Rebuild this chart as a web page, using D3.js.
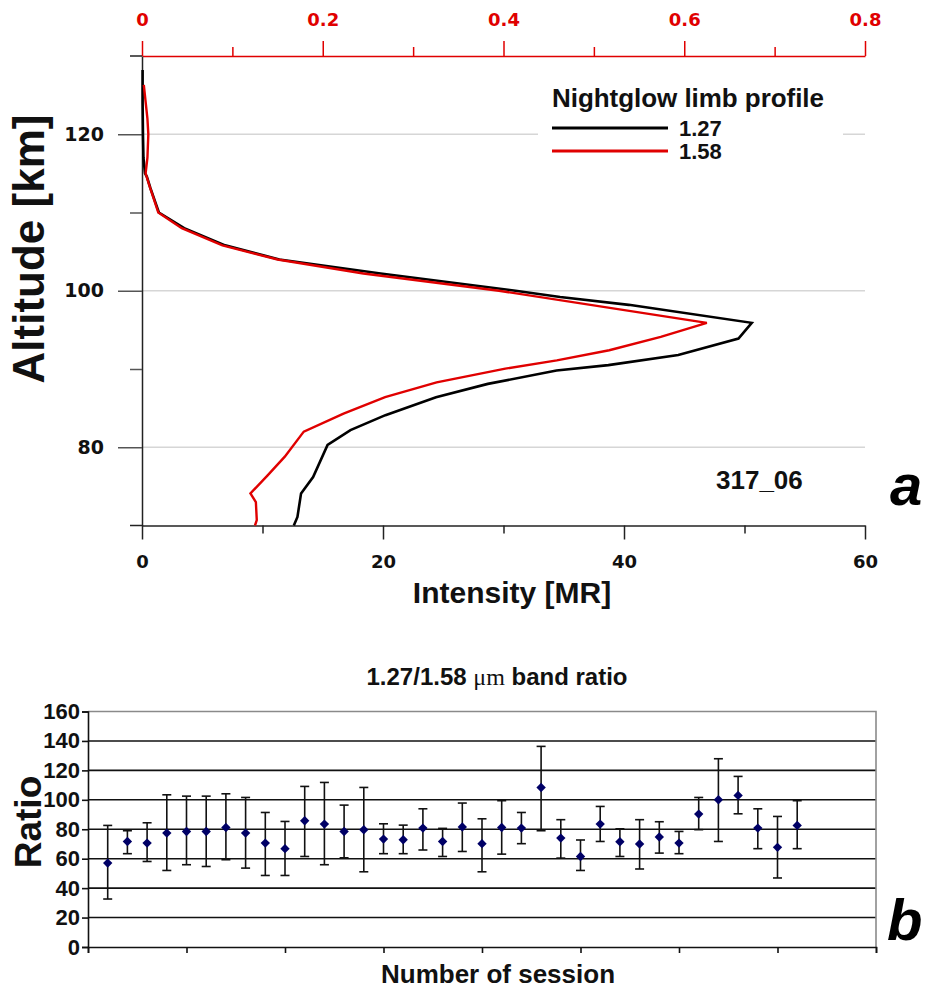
<!DOCTYPE html>
<html>
<head>
<meta charset="utf-8">
<script src="https://cdn.jsdelivr.net/npm/d3@7"></script>
<style>
body { margin: 0; background: #fff; }
text { font-family: "Liberation Sans", Arial, sans-serif; font-weight: bold; }
.tk text { font-family: "DejaVu Sans", Verdana, sans-serif; }
</style>
</head>
<body>
<div id="chart"></div>
<script>
// ---- panel a : nightglow limb profile ----
const alt127 = [128.2, 124, 120, 117, 115, 114.6, 113.1, 110, 108, 105.8, 104, 102.2, 100, 99.2, 98.2, 95.9, 93.9, 91.8, 90.5, 89.8, 88.1, 86.4, 84.1, 82.2, 80.3, 76.2, 74.1, 71.1, 70];
const int127 = [0.05, 0.05, 0.08, 0.12, 0.25, 0.4, 0.7, 1.4, 3.5, 6.9, 11.4, 19.8, 31.0, 34.7, 40.4, 50.6, 49.5, 44.5, 38.7, 34.4, 28.7, 24.4, 20.2, 17.3, 15.4, 14.2, 13.2, 12.9, 12.6];
// 1.58 profile is read against the red top axis
const alt158 = [126.3, 122, 120, 117, 115, 113.5, 110, 108, 105.8, 104, 102.2, 100, 95.9, 94.1, 92.4, 91.1, 90.05, 88.3, 86.4, 84.3, 82, 78.8, 76.4, 74.1, 73, 70.7, 70];
const int158 = [0.002, 0.006, 0.007, 0.006, 0.004, 0.008, 0.018, 0.044, 0.089, 0.150, 0.245, 0.395, 0.625, 0.574, 0.517, 0.459, 0.402, 0.326, 0.269, 0.223, 0.179, 0.158, 0.139, 0.120, 0.126, 0.127, 0.125];
const topTicks = [0, 0.1, 0.2, 0.3, 0.4, 0.5, 0.6, 0.7, 0.8];
const intTicks = [0, 10, 20, 30, 40, 50, 60];
const altTicks = [80, 90, 100, 110, 120];
const gridAlts = [80, 100, 120];
const legendNames = ["1.27", "1.58"];
const legendColors = ["#000", "#e00000"];

// ---- panel b : band ratio per session ----
const sessions = [1, 2, 3, 4, 5, 6, 7, 8, 9, 10, 11, 12, 13, 14, 15, 16, 17, 18, 19, 20, 21, 22, 23, 24, 25, 26, 27, 28, 29, 30, 31, 32, 33, 34, 35, 36];
const ratio = [57.0, 71.7, 70.6, 77.4, 78.5, 78.5, 81.2, 77.4, 70.6, 66.8, 85.8, 83.5, 78.5, 79.7, 73.3, 72.9, 80.8, 71.7, 81.5, 70.2, 81.2, 80.8, 108.4, 74.0, 61.5, 83.5, 71.5, 70.0, 74.7, 70.6, 90.3, 100.0, 103.0, 80.8, 67.7, 82.6];
const ratioHigh = [82.6, 79.0, 84.4, 103.4, 102.5, 102.5, 104.1, 101.6, 91.4, 85.3, 109.1, 111.8, 96.4, 108.4, 83.7, 82.8, 93.9, 80.6, 97.8, 87.1, 99.4, 91.4, 136.3, 86.5, 72.7, 95.5, 80.3, 86.5, 85.1, 78.5, 101.6, 127.9, 115.9, 93.9, 88.7, 99.4];
const ratioLow = [32.6, 63.4, 58.1, 52.0, 55.9, 54.7, 59.3, 53.6, 48.6, 48.6, 61.5, 55.9, 60.6, 51.1, 63.4, 63.4, 65.9, 61.5, 64.9, 51.1, 63.1, 70.2, 79.0, 60.4, 52.0, 71.7, 61.5, 53.0, 63.8, 63.4, 79.7, 71.7, 90.5, 66.8, 46.9, 66.8];
const ratioTicks = [0, 20, 40, 60, 80, 100, 120, 140, 160];
const sessionTicks = [0, 5, 10, 15, 20, 25, 30, 35, 40];

const svg = d3.select("#chart").append("svg")
    .attr("width", 930)
    .attr("height", 990);

// scales panel a
const x = d3.scaleLinear().domain([0, 60]).range([142, 865]);
const xTop = d3.scaleLinear().domain([0, 0.8]).range([142, 865]);
const y = d3.scaleLinear().domain([70, 130]).range([525.5, 56]);

// gridlines
svg.append("g").selectAll("line")
    .data(gridAlts)
    .enter()
    .append("line")
    .attr("x1", x(0)).attr("x2", x(60))
    .attr("y1", d => y(d)).attr("y2", d => y(d))
    .attr("stroke", "#d6d6d6")
    .attr("stroke-width", 1.5);

// legend box hides the grid behind it
svg.append("rect")
    .attr("x", 538).attr("y", 82)
    .attr("width", 305).attr("height", 78)
    .attr("fill", "#fff");

// top red axis
svg.append("g")
    .attr("class", "tk")
    .attr("transform", `translate(0,${y(130)})`)
    .call(d3.axisTop(xTop).tickValues(topTicks).tickSizeOuter(0)
        .tickFormat(d => Math.round(d * 10) % 2 === 0 ? (d === 0 ? "0" : d3.format(".1f")(d)) : ""))
    .call(g => {
        g.select(".domain").attr("stroke", "#e00000").attr("stroke-width", 1.5);
        g.selectAll(".tick line").attr("stroke", "#e00000").attr("stroke-width", 1.5)
            .attr("y2", d => Math.round(d * 10) % 2 === 0 ? -15 : -9);
        g.selectAll(".tick text").attr("fill", "#e00000").attr("font-size", 18)
            .attr("font-weight", "bold").attr("y", -30).attr("dy", 0);
    });

// left altitude axis
svg.append("g")
    .attr("class", "tk")
    .attr("transform", `translate(${x(0)},0)`)
    .call(d3.axisLeft(y).tickValues(altTicks).tickSizeOuter(0)
        .tickFormat(d => d % 20 === 0 ? d : ""))
    .call(g => {
        g.select(".domain").attr("stroke", "#222").attr("stroke-width", 1.5);
        g.selectAll(".tick line").attr("stroke", "#555").attr("stroke-width", 1.5)
            .attr("x2", d => d % 20 === 0 ? -24 : -12);
        g.selectAll(".tick text").attr("fill", "#111").attr("font-size", 19)
            .attr("font-weight", "bold").attr("x", -38);
    });

// bottom intensity axis
svg.append("g")
    .attr("class", "tk")
    .attr("transform", `translate(0,${y(70)})`)
    .call(d3.axisBottom(x).tickValues(intTicks).tickSizeOuter(0)
        .tickFormat(d => d % 20 === 0 ? d : ""))
    .call(g => {
        g.select(".domain").attr("stroke", "#222").attr("stroke-width", 1.5);
        g.selectAll(".tick line").attr("stroke", "#222").attr("stroke-width", 1.5)
            .attr("y2", d => d % 20 === 0 ? 14 : 8);
        g.selectAll(".tick text").attr("fill", "#111").attr("font-size", 18)
            .attr("font-weight", "bold").attr("y", 42).attr("dy", 0);
    });

// short stubs left of the axis corner
svg.append("line").attr("x1", 130).attr("x2", x(0)).attr("y1", y(130)).attr("y2", y(130))
    .attr("stroke", "#222").attr("stroke-width", 1.5);
svg.append("line").attr("x1", 130).attr("x2", x(0)).attr("y1", y(70)).attr("y2", y(70))
    .attr("stroke", "#222").attr("stroke-width", 1.5);

// profiles
const prof127 = alt127.map((a, i) => ({ a: a, v: int127[i] }));
const prof158 = alt158.map((a, i) => ({ a: a, v: int158[i] }));

svg.append("path")
    .datum(prof127)
    .attr("d", d3.line().x(d => x(d.v)).y(d => y(d.a)))
    .attr("fill", "none")
    .attr("stroke", "#000")
    .attr("stroke-width", 2.6);

svg.append("path")
    .datum(prof158)
    .attr("d", d3.line().x(d => xTop(d.v)).y(d => y(d.a)))
    .attr("fill", "none")
    .attr("stroke", "#e00000")
    .attr("stroke-width", 2.4);

// legend
svg.append("text").attr("x", 552).attr("y", 107).attr("font-size", 26).attr("fill", "#111")
    .attr("textLength", 272).text("Nightglow limb profile");
const leg = svg.append("g").selectAll("g")
    .data(legendNames)
    .enter()
    .append("g")
    .attr("transform", (d, i) => `translate(552,${128 + i * 23})`);
leg.append("line")
    .attr("x1", 0).attr("x2", 116)
    .attr("stroke", (d, i) => legendColors[i])
    .attr("stroke-width", 3);
leg.append("text")
    .attr("x", 127).attr("y", 8)
    .attr("font-size", 22).attr("fill", "#111")
    .text(d => d);

// labels panel a
svg.append("text").attr("x", 716).attr("y", 489).attr("font-size", 26).attr("fill", "#111").text("317_06");
svg.append("text").attr("x", 890).attr("y", 505).attr("font-size", 58).attr("font-style", "italic")
    .attr("fill", "#000").text("a");
svg.append("text").attr("x", 512).attr("y", 603).attr("text-anchor", "middle").attr("font-size", 30)
    .attr("fill", "#111").text("Intensity [MR]");
svg.append("text").attr("transform", "translate(44,249) rotate(-90)").attr("text-anchor", "middle")
    .attr("font-size", 44).attr("fill", "#111").text("Altitude [km]");

// ---- panel b ----
const bx = d3.scaleLinear().domain([0, 40]).range([88, 876]);
const by = d3.scaleLinear().domain([0, 160]).range([947, 711.5]);

svg.append("g").selectAll("line")
    .data(ratioTicks.filter(d => d > 0 && d < 160))
    .enter()
    .append("line")
    .attr("x1", bx(0)).attr("x2", bx(40))
    .attr("y1", d => by(d)).attr("y2", d => by(d))
    .attr("stroke", "#111")
    .attr("stroke-width", 1.6);

// plot border (top, right)
svg.append("path")
    .attr("d", `M${bx(0)},${by(160)}H${bx(40)}V${by(0)}`)
    .attr("fill", "none")
    .attr("stroke", "#8a8a8a")
    .attr("stroke-width", 1.6);

svg.append("g")
    .attr("transform", `translate(${bx(0)},0)`)
    .call(d3.axisLeft(by).tickValues(ratioTicks).tickSizeOuter(0).tickSize(6))
    .call(g => {
        g.select(".domain").attr("stroke", "#111").attr("stroke-width", 1.6);
        g.selectAll(".tick line").attr("stroke", "#111").attr("stroke-width", 1.6);
        g.selectAll(".tick text").attr("fill", "#111").attr("font-size", 22)
            .attr("font-weight", "bold").attr("x", -8);
    });

svg.append("g")
    .attr("transform", `translate(0,${by(0)})`)
    .call(d3.axisBottom(bx).tickValues(sessionTicks).tickSizeOuter(0).tickSize(6).tickFormat(""))
    .call(g => {
        g.select(".domain").attr("stroke", "#111").attr("stroke-width", 1.6);
        g.selectAll(".tick line").attr("stroke", "#111").attr("stroke-width", 1.6);
    });

const pts = sessions.map((s, i) => ({ s: s, r: ratio[i], hi: ratioHigh[i], lo: ratioLow[i] }));

const bars = svg.append("g").selectAll("g")
    .data(pts)
    .enter()
    .append("g")
    .attr("stroke", "#111")
    .attr("stroke-width", 1.6);
bars.append("line")
    .attr("x1", d => bx(d.s)).attr("x2", d => bx(d.s))
    .attr("y1", d => by(d.hi)).attr("y2", d => by(d.lo));
bars.append("line")
    .attr("x1", d => bx(d.s) - 4.5).attr("x2", d => bx(d.s) + 4.5)
    .attr("y1", d => by(d.hi)).attr("y2", d => by(d.hi));
bars.append("line")
    .attr("x1", d => bx(d.s) - 4.5).attr("x2", d => bx(d.s) + 4.5)
    .attr("y1", d => by(d.lo)).attr("y2", d => by(d.lo));

svg.append("g").selectAll("path")
    .data(pts)
    .enter()
    .append("path")
    .attr("d", d3.symbol(d3.symbolSquare, 44))
    .attr("transform", d => `translate(${bx(d.s)},${by(d.r)}) rotate(45)`)
    .attr("fill", "#000066");

// labels panel b
const title = svg.append("text").attr("x", 497).attr("y", 685).attr("text-anchor", "middle")
    .attr("font-size", 24).attr("fill", "#111");
title.append("tspan").text("1.27/1.58 ");
title.append("tspan").attr("font-weight", "normal").attr("font-family", "'Liberation Serif', serif").text("\u03bcm");
title.append("tspan").text(" band ratio");

svg.append("text").attr("transform", "translate(41,822) rotate(-90)").attr("text-anchor", "middle")
    .attr("font-size", 37).attr("fill", "#111").text("Ratio");
svg.append("text").attr("x", 498).attr("y", 983).attr("text-anchor", "middle")
    .attr("font-size", 26).attr("fill", "#111").text("Number of session");
svg.append("text").attr("x", 887).attr("y", 940).attr("font-size", 58).attr("font-style", "italic")
    .attr("fill", "#000").text("b");
</script>
</body>
</html>
